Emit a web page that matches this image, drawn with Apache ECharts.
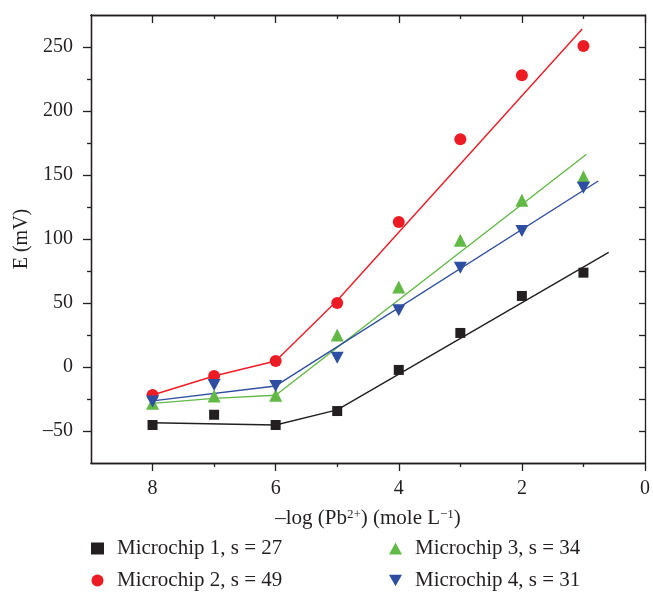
<!DOCTYPE html>
<html lang="en">
<head>
  <meta charset="UTF-8">
  <title>Microchip response</title>
  <style>
    html, body { margin: 0; padding: 0; background: #fff; }
  </style>
</head>
<body>
<div id="main" style="width: 653px;height: 597px"></div>
<script type="text/javascript" src="https://cdn.jsdelivr.net/npm/echarts@6/dist/echarts.min.js"></script>
<script>
// -log[Pb2+] values
var xs = [8, 7, 6, 5, 4, 3, 2, 1];

// measured potentials (mV)
var chip1 = [-45.3, -37.3, -45.3, -34.4, -2.3, 26.6, 55.5, 73.7];
var chip2 = [-21.9, -7.0, 4.7, 50, 113.3, 177.9, 227.9, 250.8];
var chip3 = [-28.4, -22.7, -22.1, 25, 62.5, 99, 130.2, 148.7];
var chip4 = [-27, -14.1, -14.8, 7.3, 44.3, 77.6, 106.3, 140.1];

// fitted lines (x, y)
var fit1 = [[8, -43.5], [6, -45.3], [5, -33.5], [0.59, 89.5]];
var fit2 = [[8, -21.9], [7, -7.0], [6, 4.7], [5, 52], [1.02, 264]];
var fit3 = [[8, -28.4], [7, -24.5], [6, -22.1], [0.95, 166.2]];
var fit4 = [[8, -26.5], [6, -14.8], [0.76, 145.3]];

var names = ['Microchip 1, s = 27', 'Microchip 2, s = 49', 'Microchip 3, s = 34', 'Microchip 4, s = 31'];
var colors = ['#231f20', '#ed1c24', '#62b946', '#2e4ea1'];

var xMajor = [0, 2, 4, 6, 8];
var xMinor = [1, 3, 5, 7];
var yMajor = [-50, 0, 50, 100, 150, 200, 250];
var yMinor = [-25, 25, 75, 125, 175, 225];
var yRight = [-50, -25, 0, 25, 50, 75, 100, 125, 150, 175, 200, 225, 250];

var font = 'Liberation Serif';
var ink = '#231f20';

function pairs(vals) {
  return xs.map(function (x, i) { return [x, vals[i]]; });
}

var axisLine = { show: true, onZero: false, lineStyle: { color: ink, width: 1.3 } };

function xAxisDef(pos, ticks, len, inside, label) {
  return {
    type: 'value', position: pos, min: 0, max: 9, interval: 1, inverse: true,
    axisLine: axisLine, splitLine: { show: false },
    axisTick: { show: true, inside: inside, length: len, customValues: ticks, lineStyle: { color: ink, width: 1.3 } },
    axisLabel: label ? { show: true, customValues: xMajor, margin: 16, color: ink, fontFamily: font, fontSize: 20 } : { show: false }
  };
}

function yAxisDef(pos, ticks, len, inside, label) {
  return {
    type: 'value', position: pos, min: -75, max: 275, interval: 25,
    axisLine: axisLine, splitLine: { show: false },
    axisTick: { show: true, inside: inside, length: len, customValues: ticks, lineStyle: { color: ink, width: 1.3 } },
    axisLabel: label ? {
      show: true, customValues: yMajor, margin: 18, color: ink, fontFamily: font, fontSize: 20,
      formatter: function (v) { return String(v).replace('-', '–'); }
    } : { show: false }
  };
}

var xMain = xAxisDef('bottom', xMajor, 8, false, true);
xMain.name = '–log (Pb{sup|2+}) (mole L{sup|−1})';
xMain.nameLocation = 'middle';
xMain.nameGap = 45;
xMain.nameTextStyle = {
  color: ink, fontFamily: font, fontSize: 21,
  rich: { sup: { fontFamily: font, fontSize: 13, verticalAlign: 'top', padding: [0, 0, 8, 0], color: ink } }
};

var yMain = yAxisDef('left', yMajor, 8, false, true);
yMain.name = 'E (mV)';
yMain.nameLocation = 'middle';
yMain.nameGap = 58;
yMain.nameTextStyle = { color: ink, fontFamily: font, fontSize: 20 };

var series = [];
var symbols = ['rect', 'circle', 'triangle', 'path://M0,0 L10,0 L5,9 Z'];
var sizes = [10, 12, 13, [13, 12]];
var data = [chip1, chip2, chip3, chip4];
var fits = [fit1, fit2, fit3, fit4];

fits.forEach(function (f, i) {
  series.push({
    type: 'line', data: f, showSymbol: false, symbol: 'none', silent: true,
    lineStyle: { color: colors[i], width: 1.4 }, z: 2
  });
});
data.forEach(function (d, i) {
  series.push({
    name: names[i], type: 'scatter', data: pairs(d), symbol: symbols[i], symbolSize: sizes[i],
    itemStyle: { color: colors[i], opacity: 1 }, z: 3
  });
});

var legendText = { color: ink, fontFamily: font, fontSize: 21, lineHeight: 20, padding: [0, 0, 0, 8] };

function legendDef(items, left) {
  return {
    data: items, orient: 'vertical', left: left, top: 538, height: 70,
    itemWidth: 13, itemHeight: 12, itemGap: 11, padding: 0,
    textStyle: legendText
  };
}

var option = {
  animation: false,
  grid: { left: 91, right: 6, top: 15, bottom: 134 },
  xAxis: [
    xMain,
    xAxisDef('bottom', xMinor, 4, false, false),
    xAxisDef('top', xMajor, 8, true, false),
    xAxisDef('top', xMinor, 4, true, false)
  ],
  yAxis: [
    yMain,
    yAxisDef('left', yMinor, 4, false, false),
    yAxisDef('right', yRight, 6, true, false)
  ],
  legend: [
    legendDef([names[0], names[1]], 91),
    legendDef([names[2], names[3]], 389)
  ],
  series: series
};

var myChart = echarts.init(document.getElementById('main'));
myChart.setOption(option);
</script>
</body>
</html>
